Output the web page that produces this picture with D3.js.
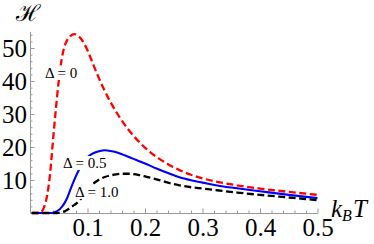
<!DOCTYPE html>
<html>
<head>
<meta charset="utf-8">
<script src="https://cdn.jsdelivr.net/npm/d3@7"></script>
<style>
  body { margin: 0; background: #fff; }
  svg { display: block; }
</style>
</head>
<body>
<svg id="chart" width="374" height="244"></svg>
<script>
// values: temperature kT and H for each Delta
const kT0 = [0.003, 0.015, 0.02, 0.025, 0.03, 0.035, 0.04, 0.045, 0.05, 0.055, 0.06, 0.065, 0.07, 0.077, 0.085, 0.09, 0.1, 0.11, 0.12, 0.13, 0.14, 0.15, 0.16, 0.17, 0.18, 0.19, 0.2, 0.21, 0.225, 0.24, 0.26, 0.28, 0.3, 0.33, 0.36, 0.4, 0.45, 0.5];
const h0  = [0, 0, 0.4, 2, 5.5, 12, 22, 31.5, 40, 46.5, 50.5, 52.5, 53.6, 54.2, 53.5, 52.5, 49.3, 45.0, 40.8, 37.0, 33.6, 30.6, 27.9, 25.5, 23.4, 21.5, 19.8, 18.3, 16.4, 14.8, 13.0, 11.6, 10.5, 9.3, 8.4, 7.4, 6.4, 5.5];

const kT05 = [0.003, 0.035, 0.04, 0.045, 0.05, 0.055, 0.06, 0.065, 0.07, 0.075, 0.08, 0.085, 0.09, 0.095, 0.1, 0.11, 0.12, 0.13, 0.14, 0.15, 0.16, 0.17, 0.18, 0.19, 0.2, 0.22, 0.24, 0.26, 0.28, 0.3, 0.33, 0.36, 0.4, 0.45, 0.5];
const h05  = [0, 0, 0.1, 0.4, 0.9, 1.8, 3, 4.7, 7, 9.2, 11.2, 13, 14.6, 15.9, 16.9, 18.1, 18.7, 19.0, 18.8, 18.4, 17.8, 17.1, 16.4, 15.7, 15.0, 13.5, 12.1, 10.8, 9.9, 9.2, 8.2, 7.5, 6.6, 5.5, 4.5];

const kT1 = [0.003, 0.045, 0.05, 0.055, 0.06, 0.065, 0.07, 0.075, 0.08, 0.085, 0.09, 0.095, 0.1, 0.11, 0.12, 0.13, 0.14, 0.15, 0.16, 0.17, 0.18, 0.19, 0.2, 0.22, 0.24, 0.26, 0.28, 0.3, 0.33, 0.36, 0.4, 0.45, 0.5];
const h1  = [0, 0, 0.05, 0.2, 0.5, 1.0, 1.6, 2.2, 2.8, 3.6, 4.6, 5.8, 7, 8.9, 10.1, 10.9, 11.4, 11.7, 11.9, 11.9, 11.8, 11.5, 11.1, 10.2, 9.2, 8.4, 7.8, 7.4, 6.8, 6.2, 5.5, 4.7, 3.9];

const xTicks = [0.1, 0.2, 0.3, 0.4, 0.5];
const yTicks = [10, 20, 30, 40, 50];

const series = [
  { name: "Δ = 0",   x: kT0,  y: h0,  color: "#ff0000", dash: "7,3.5", width: 2.3 },
  { name: "Δ = 0.5", x: kT05, y: h05, color: "#0000ff", dash: null,    width: 2.1 },
  { name: "Δ = 1.0", x: kT1,  y: h1,  color: "#000000", dash: "7,3.5", width: 2.3 }
];

const svg = d3.select("#chart");
const x = d3.scaleLinear().domain([0, 0.5]).range([30, 317.5]);
const y = d3.scaleLinear().domain([0, 55]).range([213, 31.5]);

const serif = "'Liberation Serif', 'Times New Roman', serif";

// minor ticks
const xMinor = d3.range(0.02, 0.5001, 0.02).filter(v => xTicks.every(t => Math.abs(t - v) > 1e-6));
const yMinor = d3.range(2, 55, 2).filter(v => v % 10 !== 0);

const axisColor = "#999";

const xMin = svg.append("g").attr("transform", `translate(0,${y(0)})`)
  .call(d3.axisBottom(x).tickValues(xMinor).tickSize(-2.5).tickFormat(""));
const yMin = svg.append("g").attr("transform", `translate(${x(0)},0)`)
  .call(d3.axisLeft(y).tickValues(yMinor).tickSize(-2.5).tickFormat(""));

const xAxis = svg.append("g").attr("transform", `translate(0,${y(0)})`)
  .call(d3.axisBottom(x).tickValues(xTicks).tickSize(-4.5).tickSizeOuter(0).tickPadding(5).tickFormat(d3.format(".1f")));
const yAxis = svg.append("g").attr("transform", `translate(${x(0)},0)`)
  .call(d3.axisLeft(y).tickValues(yTicks).tickSize(-4.5).tickSizeOuter(0).tickPadding(3));

[xMin, yMin].forEach(g => g.select(".domain").remove());
[xMin, yMin, xAxis, yAxis].forEach(g => {
  g.selectAll("line, path").attr("stroke", axisColor);
});
[xAxis, yAxis].forEach(g => {
  g.attr("font-family", serif).attr("font-size", 25);
  g.selectAll("text").attr("fill", "#000");
});
yAxis.selectAll("text").attr("dy", "0.34em");

// curves
const line = d3.line()
  .x(d => x(d[0]))
  .y(d => y(d[1]))
  .curve(d3.curveMonotoneX);

series.forEach(s => {
  svg.append("path")
    .datum(s.x.map((v, i) => [v, s.y[i]]))
    .attr("fill", "none")
    .attr("stroke", s.color)
    .attr("stroke-width", s.width)
    .attr("stroke-dasharray", s.dash)
    .attr("d", line);
});

// in-plot labels with white boxes
const labels = [
  { text: "Δ = 0",   x: 45, y: 77.5 },
  { text: "Δ = 0.5", x: 63, y: 168 },
  { text: "Δ = 1.0", x: 75, y: 197 }
];
labels.forEach(l => {
  const g = svg.append("g");
  const t = g.append("text")
    .attr("x", l.x).attr("y", l.y)
    .attr("font-family", serif)
    .attr("font-size", 15)
    .text(l.text);
  const b = t.node().getBBox();
  g.insert("rect", "text")
    .attr("x", b.x - 1).attr("y", b.y + 1)
    .attr("width", b.width + 2).attr("height", b.height - 2)
    .attr("fill", "#fff");
});

// axis titles
svg.append("text")
  .attr("x", 16).attr("y", 21)
  .attr("font-family", "'DejaVu Serif', serif")
  .attr("font-size", 23)
  .text("ℋ");

const kb = svg.append("text")
  .attr("x", 331).attr("y", 217)
  .attr("font-family", serif)
  .attr("font-style", "italic")
  .attr("font-size", 25);
kb.append("tspan").text("k");
kb.append("tspan").attr("dy", 4).attr("font-size", 16).text("B");
kb.append("tspan").attr("dy", -4).attr("dx", 1).text("T");
</script>
</body>
</html>
